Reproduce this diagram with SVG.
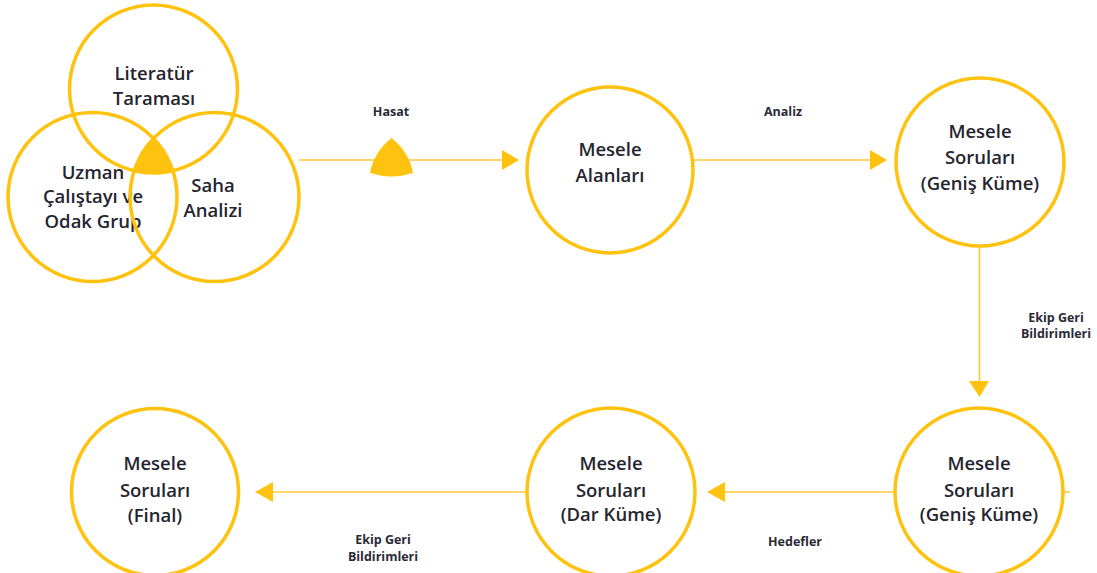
<svg xmlns="http://www.w3.org/2000/svg" width="1097" height="573" viewBox="0 0 1097 573">
<style>
.node{fill:none;stroke:#FFC20E;stroke-width:3.5}
.fillY{fill:#FFC20E}
.conn{stroke:#FFC939;stroke-width:1.6;fill:none}
.t{font-family:"Open Sans","Liberation Sans",sans-serif;font-size:18.5px;fill:#25252f;text-anchor:middle;font-weight:600}
.l{font-family:"Open Sans","Liberation Sans",sans-serif;font-size:12.5px;font-weight:bold;fill:#2a2a36;text-anchor:middle}
</style>
<rect width="1097" height="573" fill="#fff"/>
<g id="connectors">
<line class="conn" x1="299" y1="160" x2="506" y2="160"/>
<polygon class="fillY" points="502,150 519,160 502,170"/>
<path class="fillY" d="M391.5 138 A58 58 0 0 1 413 173 A70 70 0 0 1 370 173 A58 58 0 0 1 391.5 138 Z"/>
<line class="conn" x1="693" y1="160" x2="874" y2="160"/>
<polygon class="fillY" points="870,150 887,160 870,170"/>
<line class="conn" x1="979.5" y1="246" x2="979.5" y2="385"/>
<polygon class="fillY" points="969,381 989,381 979.5,397"/>
<line class="conn" x1="895" y1="492" x2="720" y2="492"/>
<line class="conn" x1="1063" y1="492" x2="1070" y2="492"/>
<polygon class="fillY" points="725,482 707,492 725,502"/>
<line class="conn" x1="527" y1="492" x2="268" y2="492"/>
<polygon class="fillY" points="273,482 255,492 273,502"/>
<text class="l" x="391" y="116">Hasat</text>
<text class="l" x="783" y="116">Analiz</text>
<text class="l" x="1056" y="322">Ekip Geri</text>
<text class="l" x="1056" y="338">Bildirimleri</text>
<text class="l" x="795" y="546">Hedefler</text>
<text class="l" x="383" y="544">Ekip Geri</text>
<text class="l" x="383" y="561">Bildirimleri</text>
</g>
<g id="venn">
<g id="literatur">
<circle class="node" cx="153.5" cy="89" r="84"/>
<text class="t" x="154" y="80">Literatür</text>
<text class="t" x="154" y="105">Taraması</text>
</g>
<g id="uzman">
<circle class="node" cx="92.5" cy="197" r="84.5"/>
<text class="t" x="93" y="179">Uzman</text>
<text class="t" x="93" y="203">Çalıştayı ve</text>
<text class="t" x="93" y="228">Odak Grup</text>
</g>
<g id="saha">
<circle class="node" cx="214.5" cy="197" r="84.5"/>
<text class="t" x="213" y="192">Saha</text>
<text class="t" x="213" y="217">Analizi</text>
</g>
<path class="fillY" d="M153.5 139.3 A84 84 0 0 1 171.8 171 A84 84 0 0 1 135.2 171 A84 84 0 0 1 153.5 139.3 Z"/>
</g>
<g id="alanlari">
<circle class="node" cx="610" cy="170" r="83"/>
<text class="t" x="610" y="156">Mesele</text>
<text class="t" x="610" y="182">Alanları</text>
</g>
<g id="genis1">
<circle class="node" cx="980" cy="162" r="84"/>
<text class="t" x="980" y="138">Mesele</text>
<text class="t" x="980" y="164">Soruları</text>
<text class="t" x="980" y="190">(Geniş Küme)</text>
</g>
<g id="genis2">
<circle class="node" cx="979" cy="492" r="84"/>
<text class="t" x="979" y="470">Mesele</text>
<text class="t" x="979" y="497">Soruları</text>
<text class="t" x="979" y="521">(Geniş Küme)</text>
</g>
<g id="dar">
<circle class="node" cx="611" cy="492" r="84"/>
<text class="t" x="611" y="470">Mesele</text>
<text class="t" x="611" y="497">Soruları</text>
<text class="t" x="611" y="521">(Dar Küme)</text>
</g>
<g id="final">
<circle class="node" cx="155" cy="492" r="83.5"/>
<text class="t" x="155" y="470">Mesele</text>
<text class="t" x="155" y="497">Soruları</text>
<text class="t" x="155" y="522">(Final)</text>
</g>
</svg>
